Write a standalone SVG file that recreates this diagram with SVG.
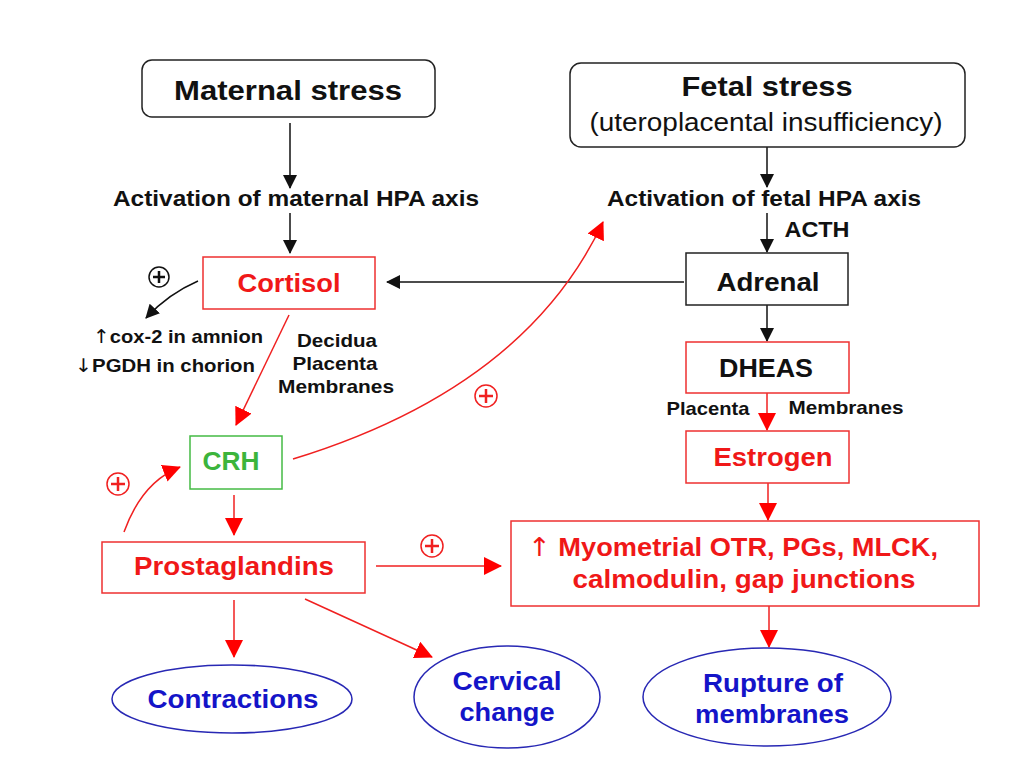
<svg xmlns="http://www.w3.org/2000/svg" width="1024" height="768" viewBox="0 0 1024 768">
<defs>
<style>
text{font-family:"Liberation Sans",Arial,sans-serif;font-weight:bold;text-anchor:middle}
.blk{fill:#111}
.red{fill:#f01818}
.grn{fill:#3cb43c}
.blu{fill:#1414c8}
.t28{font-size:28px}
.t26{font-size:26px}
.t23{font-size:22px}
.t20{font-size:19px}
.reg{font-weight:normal}
.arw{font-family:"DejaVu Sans",sans-serif;font-weight:normal}
.bbox{fill:#fff;stroke:#222;stroke-width:1.5}
.rbox{fill:#fff;stroke:#ee3030;stroke-width:1.5}
.gbox{fill:#fff;stroke:#44bb44;stroke-width:1.5}
.ell{fill:#fff;stroke:#2828b4;stroke-width:1.5}
.bl{fill:none;stroke:#111;stroke-width:1.5}
.rl{fill:none;stroke:#f02020;stroke-width:1.5}
.pc{fill:#fff;stroke-width:1.5}
</style>
<marker id="ab" markerUnits="userSpaceOnUse" markerWidth="14" markerHeight="14" refX="13" refY="7" orient="auto"><path d="M0,0 L14,7 L0,14 z" fill="#111"/></marker>
<marker id="ar" markerUnits="userSpaceOnUse" markerWidth="18" markerHeight="18" refX="17" refY="9" orient="auto"><path d="M0,0 L18,9 L0,18 z" fill="#f00"/></marker>
</defs>
<rect width="1024" height="768" fill="#fff"/>

<g id="connectors">
<line class="bl" x1="290" y1="123" x2="290" y2="188" marker-end="url(#ab)"/>
<line class="bl" x1="290" y1="213" x2="290" y2="253" marker-end="url(#ab)"/>
<line class="bl" x1="767" y1="147" x2="767" y2="187" marker-end="url(#ab)"/>
<line class="bl" x1="767" y1="213" x2="767" y2="252" marker-end="url(#ab)"/>
<line class="bl" x1="684" y1="282" x2="387" y2="282" marker-end="url(#ab)"/>
<line class="bl" x1="767" y1="305" x2="767" y2="341" marker-end="url(#ab)"/>
<path class="bl" d="M198,281 Q168,294 146,318" marker-end="url(#ab)"/>
<line class="rl" x1="767" y1="393" x2="767" y2="430" marker-end="url(#ar)"/>
<line class="rl" x1="768" y1="483" x2="768" y2="520" marker-end="url(#ar)"/>
<line class="rl" x1="769" y1="606" x2="769" y2="647" marker-end="url(#ar)"/>
<line class="rl" x1="289" y1="315" x2="236" y2="425" marker-end="url(#ar)"/>
<path class="rl" d="M293,459 Q525,388 603,222" marker-end="url(#ar)"/>
<line class="rl" x1="234" y1="495" x2="234" y2="535" marker-end="url(#ar)"/>
<path class="rl" d="M124,532 Q142,482 180,467" marker-end="url(#ar)"/>
<line class="rl" x1="376" y1="566" x2="501" y2="566" marker-end="url(#ar)"/>
<line class="rl" x1="234" y1="600" x2="234" y2="657" marker-end="url(#ar)"/>
<line class="rl" x1="305" y1="599" x2="432" y2="657" marker-end="url(#ar)"/>
</g>

<g id="plus-signs">
<g stroke="#111"><circle class="pc" cx="159" cy="277" r="10"/><path d="M153,277 H165 M159,271 V283" stroke-width="2.5"/></g>
<g stroke="#f02020"><circle class="pc" cx="486" cy="396" r="11"/><path d="M479,396 H493 M486,389 V403" stroke-width="2.5"/></g>
<g stroke="#f02020"><circle class="pc" cx="118" cy="484" r="11"/><path d="M111,484 H125 M118,477 V491" stroke-width="2.5"/></g>
<g stroke="#f02020"><circle class="pc" cx="432" cy="546" r="11"/><path d="M425,546 H439 M432,539 V553" stroke-width="2.5"/></g>
</g>

<g id="maternal-stress">
<rect class="bbox" x="142" y="60" width="293" height="57" rx="10"/>
<text class="blk t28" x="288" y="100" textLength="228" lengthAdjust="spacingAndGlyphs">Maternal stress</text>
</g>

<g id="maternal-hpa">
<text class="blk t23" x="296" y="206" textLength="366" lengthAdjust="spacingAndGlyphs">Activation of maternal HPA axis</text>
</g>

<g id="fetal-stress">
<rect class="bbox" x="570" y="63" width="395" height="84" rx="11"/>
<text class="blk t28" x="767" y="96" textLength="171" lengthAdjust="spacingAndGlyphs">Fetal stress</text>
<text class="blk t26 reg" x="766" y="131" textLength="353" lengthAdjust="spacingAndGlyphs">(uteroplacental insufficiency)</text>
</g>

<g id="fetal-hpa">
<text class="blk t23" x="764" y="206" textLength="314" lengthAdjust="spacingAndGlyphs">Activation of fetal HPA axis</text>
<text class="blk t23" x="817" y="237" textLength="65" lengthAdjust="spacingAndGlyphs">ACTH</text>
</g>

<g id="cortisol">
<rect class="rbox" x="203" y="257" width="172" height="52"/>
<text class="red t26" x="289" y="292" textLength="103" lengthAdjust="spacingAndGlyphs">Cortisol</text>
</g>

<g id="cortisol-effects">
<text class="blk t20" x="178" y="343" textLength="170" lengthAdjust="spacingAndGlyphs"><tspan class="arw">↑</tspan>cox-2 in amnion</text>
<text class="blk t20" x="165" y="372" textLength="180" lengthAdjust="spacingAndGlyphs"><tspan class="arw">↓</tspan>PGDH in chorion</text>
</g>

<g id="tissues">
<text class="blk t20" x="337" y="347" textLength="80" lengthAdjust="spacingAndGlyphs">Decidua</text>
<text class="blk t20" x="335" y="370" textLength="85" lengthAdjust="spacingAndGlyphs">Placenta</text>
<text class="blk t20" x="336" y="393" textLength="116" lengthAdjust="spacingAndGlyphs">Membranes</text>
</g>

<g id="adrenal">
<rect class="bbox" x="686" y="253" width="162" height="52"/>
<text class="blk t26" x="768" y="291" textLength="103" lengthAdjust="spacingAndGlyphs">Adrenal</text>
</g>

<g id="dheas">
<rect class="rbox" x="686" y="342" width="163" height="51"/>
<text class="blk t26" x="766" y="377" textLength="94" lengthAdjust="spacingAndGlyphs">DHEAS</text>
</g>

<g id="dheas-labels">
<text class="blk t20" x="708" y="415" textLength="83" lengthAdjust="spacingAndGlyphs">Placenta</text>
<text class="blk t20" x="846" y="414" textLength="115" lengthAdjust="spacingAndGlyphs">Membranes</text>
</g>

<g id="estrogen">
<rect class="rbox" x="686" y="431" width="163" height="52"/>
<text class="red t26" x="773" y="466" textLength="119" lengthAdjust="spacingAndGlyphs">Estrogen</text>
</g>

<g id="crh">
<rect class="gbox" x="190" y="436" width="92" height="53"/>
<text class="grn t26" x="231" y="470" textLength="57" lengthAdjust="spacingAndGlyphs">CRH</text>
</g>

<g id="prostaglandins">
<rect class="rbox" x="102" y="542" width="263" height="51"/>
<text class="red t26" x="234" y="575" textLength="200" lengthAdjust="spacingAndGlyphs">Prostaglandins</text>
</g>

<g id="myometrial">
<rect class="rbox" x="511" y="521" width="468" height="85"/>
<text class="red t26" x="733" y="556" textLength="410" lengthAdjust="spacingAndGlyphs"><tspan class="arw">↑</tspan> Myometrial OTR, PGs, MLCK,</text>
<text class="red t26" x="744" y="588" textLength="343" lengthAdjust="spacingAndGlyphs">calmodulin, gap junctions</text>
</g>

<g id="contractions">
<ellipse class="ell" cx="232" cy="699" rx="120" ry="34"/>
<text class="blu t26" x="233" y="708" textLength="171" lengthAdjust="spacingAndGlyphs">Contractions</text>
</g>

<g id="cervical-change">
<ellipse class="ell" cx="507" cy="697" rx="93" ry="51"/>
<text class="blu t26" x="507" y="690" textLength="109" lengthAdjust="spacingAndGlyphs">Cervical</text>
<text class="blu t26" x="507" y="721" textLength="95" lengthAdjust="spacingAndGlyphs">change</text>
</g>

<g id="rupture">
<ellipse class="ell" cx="767" cy="697" rx="124" ry="49"/>
<text class="blu t26" x="773" y="692" textLength="140" lengthAdjust="spacingAndGlyphs">Rupture of</text>
<text class="blu t26" x="772" y="723" textLength="154" lengthAdjust="spacingAndGlyphs">membranes</text>
</g>
</svg>
